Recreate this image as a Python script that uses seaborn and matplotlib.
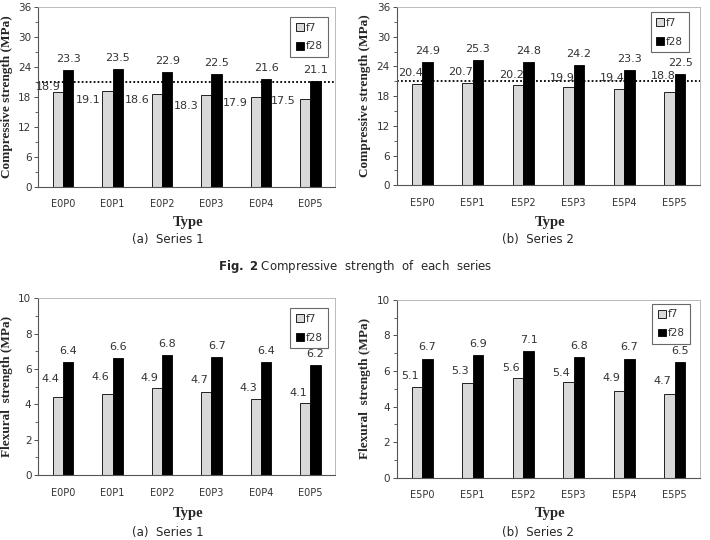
import matplotlib
matplotlib.use("Agg")
import matplotlib.pyplot as plt
from matplotlib.ticker import MultipleLocator
import pandas as pd
import seaborn as sns

sns.set_style("white")

# data
types_e0 = ["E0P0", "E0P1", "E0P2", "E0P3", "E0P4", "E0P5"]
types_e5 = ["E5P0", "E5P1", "E5P2", "E5P3", "E5P4", "E5P5"]

comp_e0_f7 = [18.9, 19.1, 18.6, 18.3, 17.9, 17.5]
comp_e0_f28 = [23.3, 23.5, 22.9, 22.5, 21.6, 21.1]
comp_e5_f7 = [20.4, 20.7, 20.2, 19.9, 19.4, 18.8]
comp_e5_f28 = [24.9, 25.3, 24.8, 24.2, 23.3, 22.5]

flex_e0_f7 = [4.4, 4.6, 4.9, 4.7, 4.3, 4.1]
flex_e0_f28 = [6.4, 6.6, 6.8, 6.7, 6.4, 6.2]
flex_e5_f7 = [5.1, 5.3, 5.6, 5.4, 4.9, 4.7]
flex_e5_f28 = [6.7, 6.9, 7.1, 6.8, 6.7, 6.5]

comp_limit = 21

series = ["f7", "f28"]
colors = {"f7": "#d9d9d9", "f28": "#000000"}


def make_df(types, f7, f28):
    return pd.DataFrame({
        "Type": types * 2,
        "Strength": f7 + f28,
        "Age": ["f7"] * len(types) + ["f28"] * len(types),
    })


fig = plt.figure(figsize=(7.1, 5.4), dpi=100)

# label placement for the f7 values (as placed by hand in the original)
panels = [
    # axes rect, df, ymax, ystep, ylabel, f7 label dx, f7 label dy, legend anchor
    ([0.054, 0.654, 0.418, 0.333], make_df(types_e0, comp_e0_f7, comp_e0_f28), 36, 6,
     "Compressive strength (MPa)",
     [-0.08, -0.29, -0.3, -0.3, -0.3, -0.34], [1.1, -1.7, -1.2, -2.1, -1.1, -0.3],
     (0.976, 0.945)),
    ([0.559, 0.657, 0.427, 0.330], make_df(types_e5, comp_e5_f7, comp_e5_f28), 36, 6,
     "Compressive strength (MPa)",
     [-0.02] * 6, [2.2, 2.1, 2.0, 1.7, 2.2, 3.2],
     (0.962, 0.972)),
    ([0.054, 0.120, 0.418, 0.328], make_df(types_e0, flex_e0_f7, flex_e0_f28), 10, 2,
     "Flexural  strength (MPa)",
     [-0.04] * 6, [1.05, 0.97, 0.6, 0.68, 0.6, 0.56],
     (0.976, 0.944)),
    ([0.559, 0.115, 0.427, 0.330], make_df(types_e5, flex_e5_f7, flex_e5_f28), 10, 2,
     "Flexural  strength (MPa)",
     [-0.04] * 6, [0.6, 0.68, 0.57, 0.5, 0.7, 0.72],
     (0.967, 0.978)),
]

serif = "Liberation Serif"

for rect, df, ymax, ystep, ylab, f7_dx, f7_dy, leg_anchor in panels:
    ax = fig.add_axes(rect)
    sns.barplot(data=df, x="Type", y="Strength", hue="Age", hue_order=series,
                palette=colors, width=0.42, edgecolor="black", linewidth=0.6,
                ax=ax, legend=True)
    ax.set_ylim(0, ymax)
    ax.set_xlim(-0.5, 5.5)
    ax.yaxis.set_major_locator(MultipleLocator(ystep))
    ax.yaxis.set_minor_locator(MultipleLocator(ystep / 2))
    ax.tick_params(axis="y", which="major", direction="out", length=3, width=0.6,
                   left=True, labelsize=7.5, colors="#333333", pad=2)
    ax.tick_params(axis="y", which="minor", direction="out", length=2, width=0.5,
                   left=True)
    ax.tick_params(axis="x", length=0, labelsize=7, pad=9, colors="#333333")
    ax.set_xlabel("")
    ax.set_ylabel(ylab, fontfamily=serif, fontweight="bold", fontsize=9.5, labelpad=4)

    for side in ["top", "right"]:
        ax.spines[side].set_color("#b0b0b0")
        ax.spines[side].set_linewidth(0.6)
    for side in ["left", "bottom"]:
        ax.spines[side].set_color("#555555")
        ax.spines[side].set_linewidth(0.8)

    # value labels
    f7_bars, f28_bars = ax.containers[0], ax.containers[1]
    for p in f28_bars:
        h = p.get_height()
        ax.text(p.get_x() + p.get_width() / 2, h + ymax * 0.062, f"{h:.1f}",
                ha="center", va="center", fontsize=8, color="#333333")
    for j, p in enumerate(f7_bars):
        h = p.get_height()
        ax.text(p.get_x() + f7_dx[j], h + f7_dy[j], f"{h:.1f}",
                ha="center", va="center", fontsize=8, color="#333333")

    if ymax == 36:
        ax.axhline(comp_limit, color="black", linestyle=(0, (1, 1.2)), linewidth=1.3,
                   zorder=0.5)

    leg = ax.legend(loc="upper right", bbox_to_anchor=leg_anchor, frameon=True,
                    fontsize=7.5, handlelength=0.75, handleheight=0.75, handletextpad=0.15,
                    labelspacing=0.85, borderpad=0.55, borderaxespad=0, fancybox=False)
    leg.get_frame().set_edgecolor("#444444")
    leg.get_frame().set_linewidth(0.8)
    for t in leg.get_texts():
        t.set_color("#333333")

# x-axis titles and captions
for x in [0.265, 0.775]:
    fig.text(x, 0.588, "Type", ha="center", va="center", fontfamily=serif,
             fontweight="bold", fontsize=10.5)
    fig.text(x, 0.05, "Type", ha="center", va="center", fontfamily=serif,
             fontweight="bold", fontsize=10.5)

fig.text(0.236, 0.556, "(a)  Series 1", ha="center", va="center", fontsize=8.5)
fig.text(0.758, 0.556, "(b)  Series 2", ha="center", va="center", fontsize=8.5)
fig.text(0.236, 0.014, "(a)  Series 1", ha="center", va="center", fontsize=8.5)
fig.text(0.758, 0.014, "(b)  Series 2", ha="center", va="center", fontsize=8.5)

fig.text(0.5, 0.507, r"$\bf{Fig.\ 2}$ Compressive  strength  of  each  series",
         ha="center", va="center", fontsize=8.5)

plt.savefig("out.png", dpi=100)
